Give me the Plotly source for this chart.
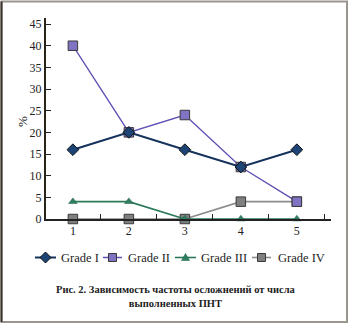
import plotly.graph_objects as go

x_vals = [1, 2, 3, 4, 5]
grade1 = [16, 20, 16, 12, 16]
grade2 = [40, 20, 24, 12, 4]
grade3 = [4, 4, 0, 0, 0]
grade4 = [0, 0, 0, 4, 4]
series_names = ["Grade I", "Grade II", "Grade III", "Grade IV"]
y_ticks = [0, 5, 10, 15, 20, 25, 30, 35, 40, 45]
x_tick_labels = ["1", "2", "3", "4", "5"]

W, H = 350, 325
L, R, T, B = 46, 19, 18, 106
pw, ph = W - L - R, H - T - B

def px2paper_x(px):
    return (px - L) / pw

def px2paper_y(py):
    return (H - B - py) / ph

serif = "Liberation Serif"
styles = {
    "Grade I": dict(line="#14325c", lw=2, sym="diamond", size=9, fill="#1c4475", edge="#111", ew=1),
    "Grade II": dict(line="#5e50b4", lw=1.3, sym="square", size=9.5, fill="#8073c4", edge="#3a3a3a", ew=1),
    "Grade III": dict(line="#2a7a5a", lw=1.6, sym="triangle-up", size=7.5, fill="#2f8062", edge="#1e5a40", ew=0.5),
    "Grade IV": dict(line="#8c8c8c", lw=1.6, sym="square", size=9.5, fill="#7f7f7f", edge="#3a3a3a", ew=1),
}
data = {"Grade I": grade1, "Grade II": grade2, "Grade III": grade3, "Grade IV": grade4}

fig = go.Figure()
for name in ["Grade IV", "Grade III", "Grade II", "Grade I"]:
    s = styles[name]
    fig.add_trace(go.Scatter(x=x_vals, y=data[name], name=name, mode="lines+markers",
                             line=dict(color=s["line"], width=s["lw"]),
                             marker=dict(symbol=s["sym"], size=s["size"], color=s["fill"],
                                         line=dict(color=s["edge"], width=s["ew"])),
                             cliponaxis=False, showlegend=False))

fig.update_layout(
    width=W, height=H,
    margin=dict(l=L, r=R, t=T, b=B),
    plot_bgcolor="white", paper_bgcolor="white",
    font=dict(family=serif, size=12, color="#222"),
    showlegend=False,
    xaxis=dict(range=[0.52, 5.61], tickvals=x_vals, ticktext=x_tick_labels,
               ticks="", showline=True, linecolor="#222", linewidth=1.5,
               showgrid=False, zeroline=False,
               tickfont=dict(family=serif, size=12, color="#222"),
               minor=dict(tickmode="array", tickvals=[1.5, 2.5, 3.5, 4.5, 5.5],
                          ticks="inside", ticklen=5, tickcolor="#222", tickwidth=1)),
    yaxis=dict(range=[0, 46.4], tickvals=y_ticks, ticks="inside", ticklen=5,
               tickcolor="#222", showline=True, linecolor="#2a2418", linewidth=2,
               showgrid=False, zeroline=False,
               tickfont=dict(family=serif, size=12, color="#222")),
)

fig.add_annotation(text="%", xref="paper", yref="paper", x=px2paper_x(22), y=px2paper_y(122),
                   xanchor="center", yanchor="middle",
                   showarrow=False, textangle=-90, font=dict(family=serif, size=13, color="#222"))
fig.add_annotation(text="<b>Рис. 2. Зависимость частоты осложнений от числа<br>выполненных ПНТ</b>",
                   xref="paper", yref="paper", x=px2paper_x(176), y=px2paper_y(296),
                   xanchor="center", yanchor="middle", showarrow=False, align="center",
                   font=dict(family=serif, size=10.5, color="#222"))

# manual legend (positions in px)
leg_y = 257.5
leg_items = [  # line start, line end, text x
    ("Grade I", 35, 56, 59),
    ("Grade II", 103, 122, 126),
    ("Grade III", 175, 196, 199),
    ("Grade IV", 252, 271, 276),
]
paths = {
    "diamond": "M 0 5.5 L 5.5 0 L 0 -5.5 L -5.5 0 Z",
    "square": "M -4 -4 L 4 -4 L 4 4 L -4 4 Z",
    "triangle-up": "M -4 -3 L 4 -3 L 0 4 Z",
}
for name, x0, x1, tx in leg_items:
    s = styles[name]
    fig.add_shape(type="line", xref="paper", yref="paper",
                  x0=px2paper_x(x0), x1=px2paper_x(x1), y0=px2paper_y(leg_y), y1=px2paper_y(leg_y),
                  line=dict(color=s["line"], width=max(s["lw"], 1.5)))
    fig.add_shape(type="path", xref="paper", yref="paper", xsizemode="pixel", ysizemode="pixel",
                  xanchor=px2paper_x((x0 + x1) / 2), yanchor=px2paper_y(leg_y),
                  path=paths[s["sym"]], fillcolor=s["fill"],
                  line=dict(color=s["edge"], width=s["ew"]))
    fig.add_annotation(text=name, xref="paper", yref="paper", x=px2paper_x(tx), y=px2paper_y(leg_y),
                       xanchor="left", yanchor="middle", showarrow=False,
                       font=dict(family=serif, size=12.5, color="#222"))

# outer frame
fig.add_shape(type="rect", xref="paper", yref="paper",
              x0=px2paper_x(1.5), x1=px2paper_x(347), y0=px2paper_y(322), y1=px2paper_y(1.5),
              line=dict(color="#9a968e", width=2), layer="above")
fig.add_shape(type="line", xref="paper", yref="paper",
              x0=px2paper_x(1.5), x1=px2paper_x(1.5), y0=px2paper_y(322), y1=px2paper_y(1.5),
              line=dict(color="#3a3328", width=2), layer="above")

fig.write_html("out.html")
